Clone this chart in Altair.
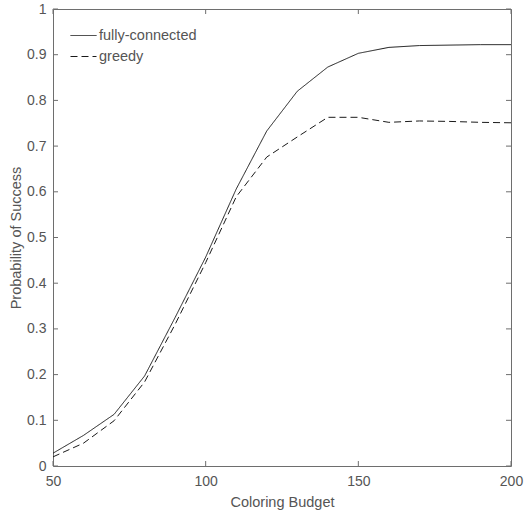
import altair as alt
import pandas as pd

# Coloring budget (x) and success probability of each strategy (y)
budget = [50, 60, 70, 80, 90, 100, 110, 120, 130, 140, 150, 160, 170, 180, 190, 200]
fully_connected = [0.028, 0.067, 0.113, 0.197, 0.325, 0.457, 0.606, 0.733, 0.820,
                   0.873, 0.903, 0.916, 0.920, 0.921, 0.922, 0.922]
greedy = [0.020, 0.050, 0.099, 0.184, 0.310, 0.445, 0.589, 0.676, 0.720,
          0.763, 0.763, 0.752, 0.755, 0.754, 0.752, 0.751]
methods = ["fully-connected", "greedy"]

x_ticks = [50, 100, 150, 200]
y_ticks = [0, 0.1, 0.2, 0.3, 0.4, 0.5, 0.6, 0.7, 0.8, 0.9, 1]

W, H = 458, 457
FONT = "Liberation Sans"
TEXT = "#555555"
FRAME = "#6e6e6e"
INK = "#1a1a1a"
TICK = 5

df = pd.DataFrame({
    "budget": budget * 2,
    "p": fully_connected + greedy,
    "method": [methods[0]] * len(budget) + [methods[1]] * len(budget),
})

x_scale = alt.Scale(domain=[50, 200], nice=False, zero=False)
y_scale = alt.Scale(domain=[0, 1], nice=False, zero=False)

lines = alt.Chart(df).mark_line(strokeWidth=1, color=INK).encode(
    x=alt.X("budget:Q", scale=x_scale,
            axis=alt.Axis(values=x_ticks, title="Coloring Budget", domain=False, ticks=False,
                          grid=False, labelPadding=8, labelFontSize=14, titleFontSize=14.5,
                          titleFontWeight="normal", titleBaseline="alphabetic",
                          titleY=40.5, labelColor=TEXT, titleColor=TEXT, labelFont=FONT,
                          titleFont=FONT, labelFlush=False)),
    y=alt.Y("p:Q", scale=y_scale,
            axis=alt.Axis(values=y_ticks, format="~g", title="Probability of Success",
                          domain=False, ticks=False, grid=False, labelPadding=7,
                          labelFontSize=14, titleFontSize=14.5, titleFontWeight="normal",
                          titleBaseline="alphabetic", titleX=-33, titleY=H / 2,
                          titleAngle=270, labelColor=TEXT, titleColor=TEXT,
                          labelFont=FONT, titleFont=FONT)),
    strokeDash=alt.StrokeDash(
        "method:N",
        scale=alt.Scale(domain=methods, range=[[1, 0], [7, 4]]),
        legend=alt.Legend(title=None, orient="none", legendX=17, legendY=13,
                          symbolType="stroke", symbolSize=676, symbolStrokeWidth=1,
                          symbolStrokeColor=INK, labelFontSize=14.5, labelFont=FONT,
                          labelColor=TEXT, labelOffset=2, padding=0, rowPadding=1),
    ),
)

yt = pd.DataFrame({"v": y_ticks})
xt = pd.DataFrame({"v": x_ticks})

y_left = alt.Chart(yt).mark_rule(color=FRAME, strokeWidth=1).encode(
    y=alt.Y("v:Q", scale=y_scale), x=alt.value(0), x2=alt.value(TICK))
y_right = alt.Chart(yt).mark_rule(color=FRAME, strokeWidth=1).encode(
    y=alt.Y("v:Q", scale=y_scale), x=alt.value(W - TICK), x2=alt.value(W))
x_bottom = alt.Chart(xt).mark_rule(color=FRAME, strokeWidth=1).encode(
    x=alt.X("v:Q", scale=x_scale), y=alt.value(H - TICK), y2=alt.value(H))
x_top = alt.Chart(xt).mark_rule(color=FRAME, strokeWidth=1).encode(
    x=alt.X("v:Q", scale=x_scale), y=alt.value(0), y2=alt.value(TICK))

chart = alt.layer(y_left, y_right, x_bottom, x_top, lines).properties(
    width=W, height=H,
    autosize=alt.AutoSizeParams(type="none"),
    padding={"left": 53, "top": 9, "right": 13, "bottom": 44},
    background="white",
).configure_view(stroke=FRAME, strokeWidth=1)

chart.save("out.html", embed_options={"renderer": "svg", "actions": False})
